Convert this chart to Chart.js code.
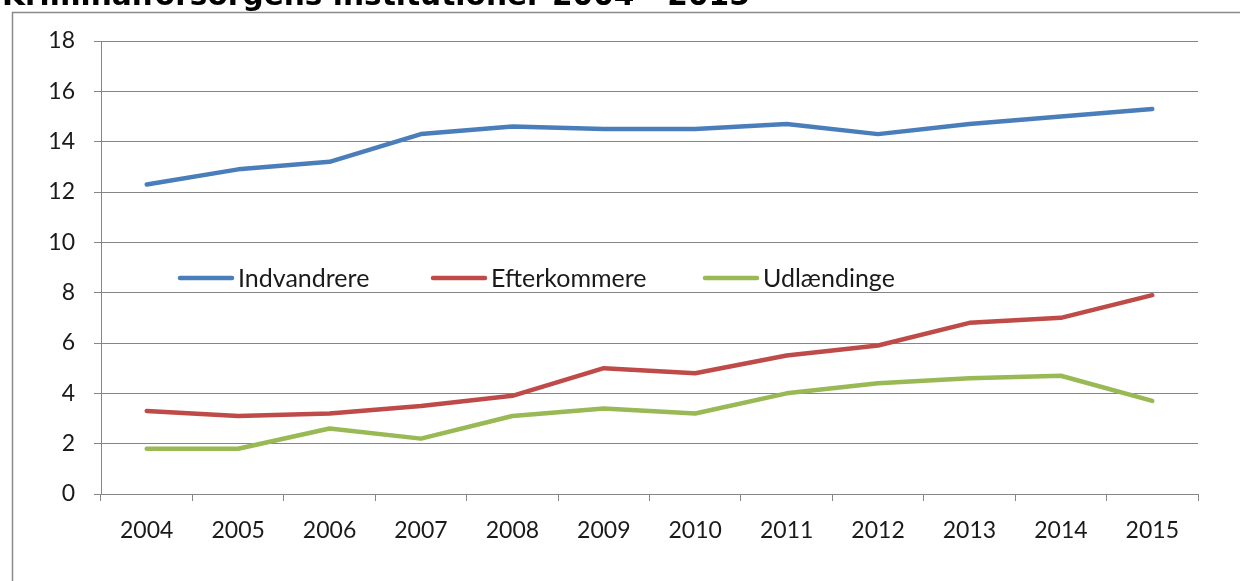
<!DOCTYPE html>
<html><head><meta charset="utf-8">
<script src="https://cdn.jsdelivr.net/npm/chart.js@4"></script>
<style>html,body{margin:0;padding:0;background:#fff;overflow:hidden}canvas{display:block}</style>
</head><body>
<canvas id="c" width="1240" height="581"></canvas>
<script>
const titleText = 'Kriminalforsorgens institutioner 2004 - 2015';
const years = ['2004','2005','2006','2007','2008','2009','2010','2011','2012','2013','2014','2015'];
const indvandrere = [12.3,12.9,13.2,14.3,14.6,14.5,14.5,14.7,14.3,14.7,15.0,15.3];
const efterkommere = [3.3,3.1,3.2,3.5,3.9,5.0,4.8,5.5,5.9,6.8,7.0,7.9];
const udlaendinge = [1.8,1.8,2.6,2.2,3.1,3.4,3.2,4.0,4.4,4.6,4.7,3.7];
const seriesNames = ['Indvandrere','Efterkommere','Udlændinge'];
const seriesColors = ['#4A7EBB','#BE4B48','#98B954'];

const FONT = 'Lato, "Open Sans", sans-serif';
const GRID = '#868686';

const framePlugin = {
  id: 'frame',
  beforeDraw(chart) {
    const ctx = chart.ctx;
    ctx.save();
    ctx.fillStyle = '#fff';
    ctx.fillRect(0, 0, chart.width, chart.height);
    ctx.strokeStyle = '#8a8a8a';
    ctx.lineWidth = 1.5;
    ctx.beginPath();
    ctx.moveTo(12.5, chart.height + 5);
    ctx.lineTo(12.5, 12.5);
    ctx.lineTo(chart.width + 5, 12.5);
    ctx.stroke();
    ctx.fillStyle = '#000';
    ctx.font = 'bold 24px "DejaVu Sans", Verdana, sans-serif';
    const w = ctx.measureText(titleText).width;
    const size = 24 * 748 / w;
    ctx.font = 'bold ' + size.toFixed(2) + 'px "DejaVu Sans", Verdana, sans-serif';
    ctx.textBaseline = 'alphabetic';
    ctx.textAlign = 'left';
    ctx.fillText(titleText, 2, 5);
    ctx.restore();
  }
};

const legendPlugin = {
  id: 'innerLegend',
  afterDatasetsDraw(chart) {
    const ctx = chart.ctx;
    const xs = [180, 433, 705];
    const y = 278;
    ctx.save();
    ctx.font = '25px ' + FONT;
    ctx.textBaseline = 'middle';
    ctx.textAlign = 'left';
    chart.data.datasets.forEach((ds, i) => {
      ctx.strokeStyle = ds.borderColor;
      ctx.lineWidth = 4.5;
      ctx.lineCap = 'round';
      ctx.beginPath();
      ctx.moveTo(xs[i], y);
      ctx.lineTo(xs[i] + 52, y);
      ctx.stroke();
      ctx.fillStyle = '#1a1a1a';
      ctx.fillText(ds.label, xs[i] + 58, y + 1);
    });
    ctx.restore();
  }
};

new Chart(document.getElementById('c'), {
  type: 'line',
  data: {
    labels: years,
    datasets: [indvandrere, efterkommere, udlaendinge].map((d, i) => ({
      label: seriesNames[i],
      data: d,
      borderColor: seriesColors[i],
      backgroundColor: seriesColors[i],
      borderWidth: 4.5,
      borderCapStyle: 'round',
      borderJoinStyle: 'round',
      pointRadius: 0,
      tension: 0,
      fill: false
    }))
  },
  options: {
    responsive: false,
    devicePixelRatio: 1,
    animation: false,
    layout: { padding: { left: 0, top: 41, right: 42, bottom: 0 } },
    plugins: { legend: { display: false }, title: { display: false }, tooltip: { enabled: false } },
    scales: {
      x: {
        offset: true,
        grid: { display: true, drawOnChartArea: false, drawTicks: true, tickLength: 7, offset: true, color: GRID, lineWidth: 1 },
        border: { display: true, color: GRID, width: 1 },
        ticks: { font: { family: FONT, size: 23 }, color: '#1a1a1a', padding: 16, maxRotation: 0 },
        afterFit(s) { s.height = 87; }
      },
      y: {
        min: 0, max: 18,
        grid: { color: GRID, lineWidth: 1, tickLength: 7 },
        border: { display: true, color: GRID, width: 1 },
        ticks: { stepSize: 2, font: { family: FONT, size: 23 }, color: '#1a1a1a', padding: 19 },
        afterFit(s) { s.width = 101; }
      }
    }
  },
  plugins: [framePlugin, legendPlugin]
});
</script>
</body></html>
